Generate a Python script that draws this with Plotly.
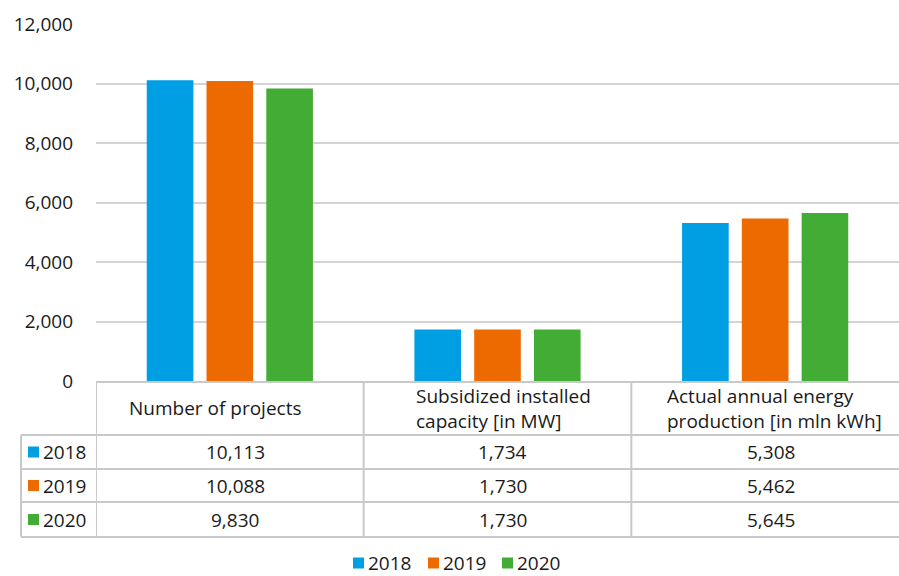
import plotly.graph_objects as go

categories = ["Number of projects", "Subsidized installed capacity [in MW]",
              "Actual annual energy production [in mln kWh]"]
header_lines = [["Number of projects"],
                ["Subsidized installed", "capacity [in MW]"],
                ["Actual annual energy", "production [in mln kWh]"]]
years = ["2018", "2019", "2020"]
values = {
    "2018": [10113, 1734, 5308],
    "2019": [10088, 1730, 5462],
    "2020": [9830, 1730, 5645],
}
colors = {"2018": "#009FE3", "2019": "#EC6A00", "2020": "#43AC34"}
y_ticks = [0, 2000, 4000, 6000, 8000, 10000, 12000]

W, H = 899, 576
ML, MR, MT, MB = 96, 0, 24, 0
FONT = "Open Sans"
TXT = "#1a1a1a"
LINE = "#c9c9c9"
FS = 19


def px_x(x):
    return (x - ML) / (W - ML - MR)


def px_y(y):
    return (H - MB - y) / (H - MT - MB)


fig = go.Figure()
for yr in years:
    fig.add_trace(go.Bar(name=yr, x=[0, 1, 2], y=values[yr],
                         marker=dict(color=colors[yr], line=dict(width=0))))

y0_px = 381
fig.update_layout(
    width=W, height=H,
    margin=dict(l=ML, r=MR, t=MT, b=MB, autoexpand=False),
    plot_bgcolor="white", paper_bgcolor="white",
    barmode="group", bargap=0.33, bargroupgap=0.22,
    font=dict(family=FONT, size=FS, color=TXT),
    showlegend=False,
    xaxis=dict(range=[-0.5, 2.5], showticklabels=False, showgrid=False,
               zeroline=False, showline=False, ticks=""),
    yaxis=dict(range=[0, 12000], domain=[px_y(y0_px), 1], tickvals=y_ticks,
               tickformat=",", showgrid=True, gridcolor="#d4d4d4", gridwidth=2,
               zeroline=False, showline=False, ticks="",
               ticklabelstandoff=22, tickfont=dict(size=FS, color=TXT)),
)

shapes = []
annotations = []
row_tops = [435, 469, 502]
row_bot = 537
header_top = 382
table_left = 21


def hline(y, x0, x1):
    shapes.append(dict(type="line", xref="paper", yref="paper",
                       x0=px_x(x0), x1=px_x(x1), y0=px_y(y), y1=px_y(y),
                       line=dict(color=LINE, width=2)))


hline(header_top, ML, W)
for y in row_tops + [row_bot]:
    hline(y, table_left, W)

# vertical lines at category boundaries on the x axis
for xb in [-0.5, 0.5, 1.5]:
    shapes.append(dict(type="line", xref="x", yref="paper", x0=xb, x1=xb,
                       y0=px_y(header_top), y1=px_y(row_bot),
                       line=dict(color=LINE, width=2)))
shapes.append(dict(type="line", xref="paper", yref="paper",
                   x0=px_x(table_left), x1=px_x(table_left),
                   y0=px_y(row_tops[0]), y1=px_y(row_bot),
                   line=dict(color=LINE, width=2)))

# header text
header_x = [129, 416, 667]
for ci, lines in enumerate(header_lines):
    n = len(lines)
    cy = (header_top + row_tops[0]) / 2
    for li, ln in enumerate(lines):
        yy = cy + (li - (n - 1) / 2) * 25
        annotations.append(dict(text=ln, xref="paper", yref="paper",
                                x=px_x(header_x[ci] - 2), y=px_y(yy),
                                xanchor="left", yanchor="middle",
                                showarrow=False, font=dict(size=FS, color=TXT)))

bounds = row_tops + [row_bot]
for ri, yr in enumerate(years):
    cy = (bounds[ri] + bounds[ri + 1]) / 2
    shapes.append(dict(type="rect", xref="paper", yref="paper",
                       x0=px_x(28), x1=px_x(39), y0=px_y(cy - 5.5), y1=px_y(cy + 5.5),
                       fillcolor=colors[yr], line=dict(width=0)))
    annotations.append(dict(text=yr, xref="paper", yref="paper",
                            x=px_x(41), y=px_y(cy), xanchor="left", yanchor="middle",
                            showarrow=False, font=dict(size=FS, color=TXT)))
    for ci in range(3):
        annotations.append(dict(text=f"{values[yr][ci]:,}", xref="x", yref="paper",
                                x=ci + 0.02, y=px_y(cy), xanchor="center",
                                yanchor="middle", showarrow=False,
                                font=dict(size=FS, color=TXT)))

# legend drawn manually
leg_x = [353, 428, 502]
leg_y = 563
for i, yr in enumerate(years):
    shapes.append(dict(type="rect", xref="paper", yref="paper",
                       x0=px_x(leg_x[i]), x1=px_x(leg_x[i] + 11),
                       y0=px_y(leg_y - 5.5), y1=px_y(leg_y + 5.5),
                       fillcolor=colors[yr], line=dict(width=0)))
    annotations.append(dict(text=yr, xref="paper", yref="paper",
                            x=px_x(leg_x[i] + 13), y=px_y(leg_y), xanchor="left",
                            yanchor="middle", showarrow=False,
                            font=dict(size=FS, color=TXT)))

fig.update_layout(shapes=shapes, annotations=annotations)
fig.write_html("out.html")
